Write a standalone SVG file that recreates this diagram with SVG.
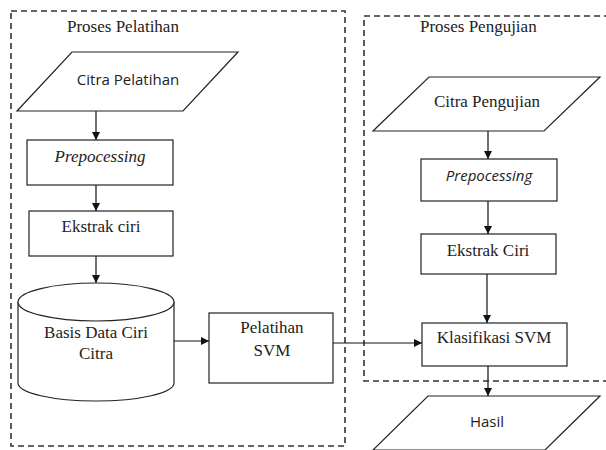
<svg xmlns="http://www.w3.org/2000/svg" width="606" height="450" viewBox="0 0 606 450">
<style>
.shape{fill:#fff;stroke:#222;stroke-width:1.2}
.dash{fill:none;stroke:#333;stroke-width:1.6;stroke-dasharray:6 4}
.serif{font-family:"Liberation Serif","Times New Roman",serif;font-size:17px;fill:#222}
.sans{font-family:"Open Sans","Liberation Sans",sans-serif;font-size:15px;fill:#222}
.conn{stroke:#111;stroke-width:1.2;fill:none;marker-end:url(#arr)}
</style>
<defs>
<marker id="arr" viewBox="0 0 10 10" refX="10" refY="5" markerWidth="8" markerHeight="8" markerUnits="userSpaceOnUse" orient="auto">
<path d="M0,0 L10,5 L0,10 z" fill="#111"/>
</marker>
</defs>
<rect width="606" height="450" fill="#fff"/>
<g id="group-pelatihan">
<rect class="dash" x="11" y="11" width="334" height="435"/>
<text class="serif" x="67" y="32">Proses Pelatihan</text>
</g>
<g id="group-pengujian">
<path class="dash" d="M610,16 L364,16 L364,381 L610,381"/>
<text class="serif" x="420" y="32">Proses Pengujian</text>
</g>
<g id="connectors">
<path class="conn" d="M96,111 L96,140"/>
<path class="conn" d="M96,185 L96,211"/>
<path class="conn" d="M96,256 L96,283"/>
<path class="conn" d="M174,341 L209,341"/>
<path class="conn" d="M333,343 L422,343"/>
<path class="conn" d="M488,131 L488,159"/>
<path class="conn" d="M488,201 L488,234"/>
<path class="conn" d="M487,274 L487,323"/>
<path class="conn" d="M488,366 L488,396"/>
</g>
<g id="citra-pelatihan">
<polygon class="shape" points="72,52 238,52 183,111 17,111"/>
<text class="sans" x="128" y="85" text-anchor="middle">Citra Pelatihan</text>
</g>
<g id="prepocessing-1">
<rect class="shape" x="27" y="140" width="146" height="45"/>
<text class="serif" x="100" y="162" text-anchor="middle" font-style="italic">Prepocessing</text>
</g>
<g id="ekstrak-ciri-1">
<rect class="shape" x="29" y="211" width="144" height="45"/>
<text class="serif" x="101" y="232" text-anchor="middle">Ekstrak ciri</text>
</g>
<g id="basis-data">
<path class="shape" d="M18,302 L18,383 A78,18 0 0 0 174,383 L174,302"/>
<ellipse class="shape" cx="96" cy="302" rx="78" ry="19"/>
<text class="serif" x="96" y="338" text-anchor="middle">Basis Data Ciri</text>
<text class="serif" x="96" y="359" text-anchor="middle">Citra</text>
</g>
<g id="pelatihan-svm">
<rect class="shape" x="209" y="313" width="124" height="70"/>
<text class="serif" x="272" y="333" text-anchor="middle">Pelatihan</text>
<text class="serif" x="272" y="356" text-anchor="middle">SVM</text>
</g>
<g id="citra-pengujian">
<polygon class="shape" points="429,77 600,77 544,131 373,131"/>
<text class="serif" x="487" y="107" text-anchor="middle">Citra Pengujian</text>
</g>
<g id="prepocessing-2">
<rect class="shape" x="421" y="159" width="136" height="42"/>
<text class="sans" x="489" y="181" text-anchor="middle" font-style="italic">Prepocessing</text>
</g>
<g id="ekstrak-ciri-2">
<rect class="shape" x="421" y="234" width="135" height="40"/>
<text class="serif" x="488" y="256" text-anchor="middle">Ekstrak Ciri</text>
</g>
<g id="klasifikasi-svm">
<rect class="shape" x="422" y="323" width="145" height="43"/>
<text class="serif" x="494" y="343" text-anchor="middle">Klasifikasi SVM</text>
</g>
<g id="hasil">
<polygon class="shape" points="428,396 600,396 545,450 373,450"/>
<text class="sans" x="487" y="427" text-anchor="middle" font-size="14">Hasil</text>
</g>
</svg>
